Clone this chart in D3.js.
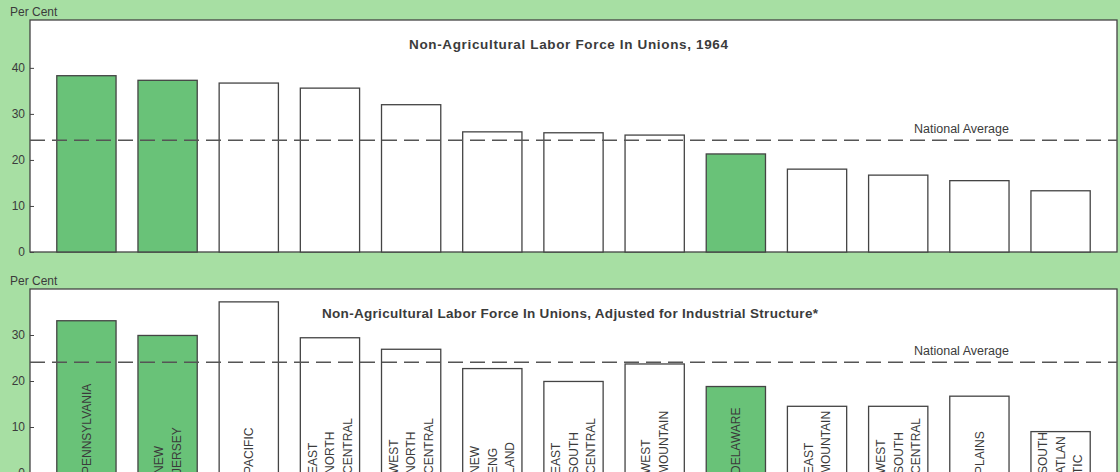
<!DOCTYPE html>
<html>
<head>
<meta charset="utf-8">
<script src="https://cdn.jsdelivr.net/npm/d3@7"></script>
<style>
  body { margin: 0; background: #a7dfa3; }
  svg { display: block; font-family: "Liberation Sans", Arial, sans-serif; }
</style>
</head>
<body>
<div id="chart"></div>
<script>
// regions, same order in both panels
var categories = ["PENNSYLVANIA", "NEW JERSEY", "PACIFIC", "EAST NORTH CENTRAL", "WEST NORTH CENTRAL",
    "NEW ENGLAND", "EAST SOUTH CENTRAL", "WEST MOUNTAIN", "DELAWARE", "EAST MOUNTAIN",
    "WEST SOUTH CENTRAL", "PLAINS", "SOUTH ATLANTIC"];
var labelLines = [["PENNSYLVANIA"], ["NEW", "JERSEY"], ["PACIFIC"], ["EAST", "NORTH", "CENTRAL"],
    ["WEST", "NORTH", "CENTRAL"], ["NEW", "ENG", "LAND"], ["EAST", "SOUTH", "CENTRAL"],
    ["WEST", "MOUNTAIN"], ["DELAWARE"], ["EAST", "MOUNTAIN"], ["WEST", "SOUTH", "CENTRAL"],
    ["PLAINS"], ["SOUTH", "ATLAN", "TIC"]];
var highlighted = ["PENNSYLVANIA", "NEW JERSEY", "DELAWARE"];

var unions1964 = [38.3, 37.3, 36.7, 35.6, 32.0, 26.1, 25.9, 25.4, 21.3, 18.0, 16.7, 15.5, 13.3];
var unionsAdjusted = [33.1, 29.9, 37.2, 29.4, 26.9, 22.7, 19.9, 23.7, 18.8, 14.5, 14.5, 16.7, 9.0];

var nationalAvg1964 = 24.3;
var nationalAvgAdjusted = 24.1;

var ticks1964 = [0, 10, 20, 30, 40];
var ticksAdjusted = [0, 10, 20, 30];

var title1964 = "Non-Agricultural Labor Force In Unions, 1964";
var titleAdjusted = "Non-Agricultural Labor Force In Unions, Adjusted for Industrial Structure*";

var width = 1120;
var height = 472;
var left = 30;
var right = 1117;
var ink = "#3b3b3b";
var green = "#69c278";

var svg = d3.select("#chart").append("svg")
    .attr("width", width)
    .attr("height", height);

var x = d3.scaleBand()
    .domain(categories)
    .range([left, right])
    .paddingInner(0.27)
    .paddingOuter(0.33);

function drawPanel(opts) {
    var y = d3.scaleLinear()
        .domain([0, opts.yMax])
        .range([opts.bottom, opts.top]);

    var g = svg.append("g");

    g.append("text")
        .attr("x", 10)
        .attr("y", opts.top - 4)
        .attr("fill", ink)
        .attr("font-size", 12)
        .text("Per Cent");

    g.append("rect")
        .attr("x", left)
        .attr("y", opts.top)
        .attr("width", right - left)
        .attr("height", opts.bottom - opts.top)
        .attr("fill", "white")
        .attr("stroke", "#444")
        .attr("stroke-width", 1.3);

    g.append("text")
        .attr("x", opts.titleX)
        .attr("y", opts.top + 29)
        .attr("font-weight", "bold")
        .attr("font-size", 13.5)
        .attr("fill", ink)
        .attr("textLength", opts.titleLen)
        .attr("lengthAdjust", "spacing")
        .text(opts.title);

    var data = categories.map(function(c, i) {
        return { cat: c, value: opts.values[i], lines: labelLines[i], idx: i };
    });

    g.selectAll(".bar")
        .data(data)
        .enter().append("rect")
        .attr("class", "bar")
        .attr("x", d => x(d.cat))
        .attr("y", d => y(d.value))
        .attr("width", x.bandwidth())
        .attr("height", d => y(0) - y(d.value))
        .attr("fill", d => highlighted.indexOf(d.cat) >= 0 ? green : "white")
        .attr("stroke", "#444")
        .attr("stroke-width", 1.3);

    if (opts.labels) {
        var defs = svg.append("defs");
        data.forEach(function(d) {
            defs.append("clipPath")
                .attr("id", "clip-" + d.idx)
                .append("rect")
                .attr("x", x(d.cat))
                .attr("y", y(d.value))
                .attr("width", x.bandwidth())
                .attr("height", y(0) - y(d.value));
        });

        var lh = 17.5;
        var fs = 12;
        g.selectAll(".lbl")
            .data(data)
            .enter().append("g")
            .attr("clip-path", d => "url(#clip-" + d.idx + ")")
            .append("text")
            .attr("class", "lbl")
            .attr("transform", d => "translate(" + (x(d.cat) + x.bandwidth() / 2) + "," + (y(0) + 1) + ") rotate(-90)")
            .attr("font-size", fs)
            .attr("fill", ink)
            .each(function(d) {
                var t = d3.select(this);
                var n = d.lines.length;
                d.lines.forEach(function(line, i) {
                    t.append("tspan")
                        .attr("x", 0)
                        .attr("dy", i === 0 ? (fs * 0.36 - (n - 1) / 2 * lh) : lh)
                        .text(line);
                });
            });
    }

    // national average
    g.append("line")
        .attr("x1", left)
        .attr("x2", right)
        .attr("y1", y(opts.avg))
        .attr("y2", y(opts.avg))
        .attr("stroke", "#555")
        .attr("stroke-width", 1.5)
        .attr("stroke-dasharray", "15,7");

    g.append("text")
        .attr("x", 914)
        .attr("y", y(opts.avg) - 7)
        .attr("font-size", 12.5)
        .attr("fill", ink)
        .text("National Average");

    var axis = g.append("g")
        .attr("transform", "translate(" + left + ",0)")
        .call(d3.axisLeft(y).tickValues(opts.ticks).tickSize(-4).tickPadding(5));
    axis.select(".domain").remove();
    axis.selectAll("line").attr("stroke", "#444");
    axis.selectAll("text")
        .attr("fill", ink)
        .attr("font-size", 12)
        .attr("font-family", "Liberation Sans, Arial, sans-serif");
}

drawPanel({
    top: 20, bottom: 252, yMax: 50.4,
    values: unions1964, avg: nationalAvg1964, ticks: ticks1964,
    title: title1964, titleX: 409, titleLen: 319, labels: false
});

drawPanel({
    top: 289, bottom: 473, yMax: 40,
    values: unionsAdjusted, avg: nationalAvgAdjusted, ticks: ticksAdjusted,
    title: titleAdjusted, titleX: 322, titleLen: 496, labels: true
});
</script>
</body>
</html>
